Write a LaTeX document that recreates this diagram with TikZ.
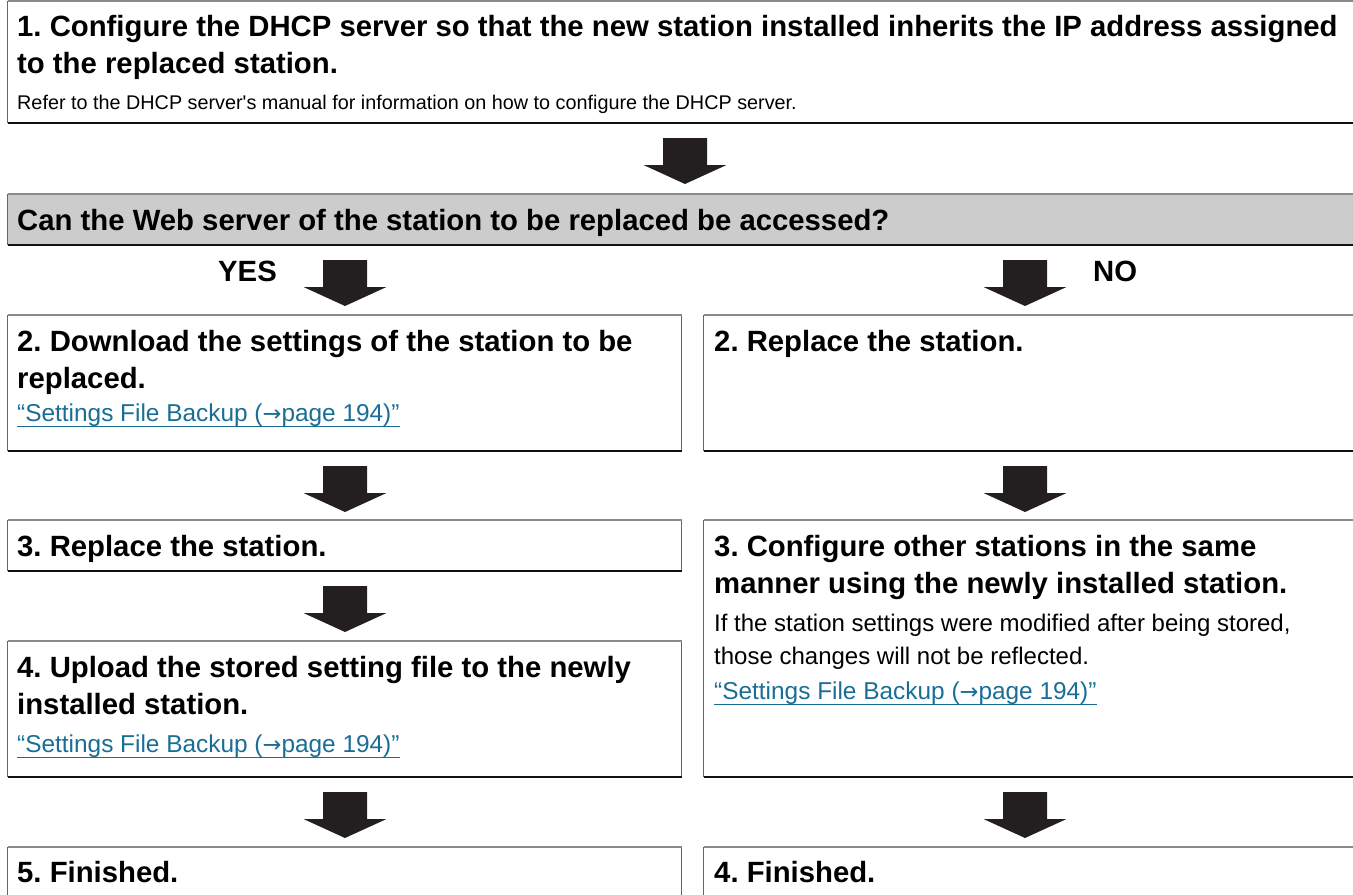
\documentclass[tikz,border=0pt]{standalone}
\usepackage{fontspec}
% plain family: keeps the straight apostrophe as typed
\newfontfamily\lib{Liberation Sans}
\newfontfamily\djv{DejaVu Sans}

\definecolor{inkc}{HTML}{231F20}
\definecolor{topc}{HTML}{8A8A8A}
\definecolor{sidec}{HTML}{666666}
\definecolor{botc}{HTML}{111111}
\definecolor{fillg}{HTML}{CCCCCC}
\definecolor{linkc}{HTML}{1A6E96}

\tikzset{
  frame/.style={anchor=north west, inner sep=0, outer sep=0},
  toppen/.style={draw=topc, line width=2.6bp},
  sidepen/.style={draw=sidec, line width=1.3bp},
  botpen/.style={draw=botc, line width=1.6bp},
  head/.style={anchor=base west, inner sep=0, text=black,
    font=\lib\frenchspacing\fontsize{29.3bp}{35bp}\selectfont\bfseries},
  note/.style={anchor=base west, inner sep=0, text=black,
    font=\lib\frenchspacing\fontsize{19.8bp}{24bp}\selectfont},
  sub/.style={anchor=base west, inner sep=0, text=black,
    font=\lib\frenchspacing\fontsize{24bp}{28bp}\selectfont},
  linktext/.style={anchor=base west, inner sep=0, text=linkc,
    font=\lib\frenchspacing\fontsize{24.4bp}{28bp}\selectfont},
  linkline/.style={draw=linkc, line width=1.2bp},
  blockarrow/.pic={\fill[inkc] (-22,0) -- (22,0) -- (22,27) -- (41.5,27)
      -- (0,46) -- (-41.5,27) -- (-22,27) -- cycle;}
}

% edges of a frame: grey top rule, dark sides, black bottom rule
\newcommand\frameedges[1]{%
  \draw[sidepen] (#1.north west) -- (#1.south west) (#1.north east) -- (#1.south east);
  \draw[botpen] (#1.south west) -- (#1.south east);
  \draw[toppen] (#1.north west) -- (#1.north east);}
\newcommand\underlink[1]{%
  \draw[linkline] ([yshift=-0.5bp]#1.south west) -- ([yshift=-0.5bp]#1.south east);}
\newcommand\backuplink{“Settings File Backup ({\djv\fontsize{22.5bp}{26bp}\selectfont →}page 194)”}

\begin{document}
\begin{tikzpicture}[x=1bp,y=-1bp]
\useasboundingbox (0,0) rectangle (1353,894);
\clip (0,0) rectangle (1353,894);

% frames
\node[frame, minimum width=1352.5bp, minimum height=122bp] (b1) at (7.5,1) {};
\node[frame, minimum width=1352.5bp, minimum height=51bp, fill=fillg] (q) at (7.5,194) {};
\node[frame, minimum width=674bp, minimum height=136bp] (l2) at (7.5,315) {};
\node[frame, minimum width=656.5bp, minimum height=136bp] (r2) at (703.5,315) {};
\node[frame, minimum width=674bp, minimum height=51bp] (l3) at (7.5,520) {};
\node[frame, minimum width=656.5bp, minimum height=257bp] (r3) at (703.5,520) {};
\node[frame, minimum width=674bp, minimum height=136bp] (l4) at (7.5,641) {};
\node[frame, minimum width=674bp, minimum height=60bp] (l5) at (7.5,847) {};
\node[frame, minimum width=656.5bp, minimum height=60bp] (r4) at (703.5,847) {};

\foreach \f in {b1,q,l2,r2,l3,r3,l4,l5,r4} {\frameedges{\f}}

% step 1
\node[head] (t1a) at (17,36) {1. Configure the DHCP server so that the new station installed inherits the IP address assigned};
\node[head] (t1b) at (17,73) {to the replaced station.};
\node[note] (t1c) at (17,109) {Refer to the DHCP server's manual for information on how to configure the DHCP server.};

% question
\node[head] (tq) at (17,230) {Can the Web server of the station to be replaced be accessed?};
\node[head, anchor=base east] (yes) at (277,281) {YES};
\node[head] (no) at (1093,281) {NO};

% left branch
\node[head] (l2a) at (17,351) {2. Download the settings of the station to be};
\node[head] (l2b) at (17,388) {replaced.};
\node[linktext] (l2c) at (17,421) {\backuplink};
\underlink{l2c}
\node[head] (l3a) at (17,556) {3. Replace the station.};
\node[head] (l4a) at (17,677) {4. Upload the stored setting file to the newly};
\node[head] (l4b) at (17,714) {installed station.};
\node[linktext] (l4c) at (17,752) {\backuplink};
\underlink{l4c}
\node[head] (l5a) at (17,882) {5. Finished.};

% right branch
\node[head] (r2a) at (714,351) {2. Replace the station.};
\node[head] (r3a) at (714,556) {3. Configure other stations in the same};
\node[head] (r3b) at (714,593) {manner using the newly installed station.};
\node[sub] (r3c) at (714,631) {If the station settings were modified after being stored,};
\node[sub] (r3d) at (714,664) {those changes will not be reflected.};
\node[linktext] (r3e) at (714,699) {\backuplink};
\underlink{r3e}
\node[head] (r4a) at (714,882) {4. Finished.};

% block arrows between steps
\pic at (685,138) {blockarrow};
\pic at (345,260) {blockarrow};
\pic at (1025,260) {blockarrow};
\pic at (345,466) {blockarrow};
\pic at (1025,466) {blockarrow};
\pic at (345,586) {blockarrow};
\pic at (345,792) {blockarrow};
\pic at (1025,792) {blockarrow};
\end{tikzpicture}
\end{document}
